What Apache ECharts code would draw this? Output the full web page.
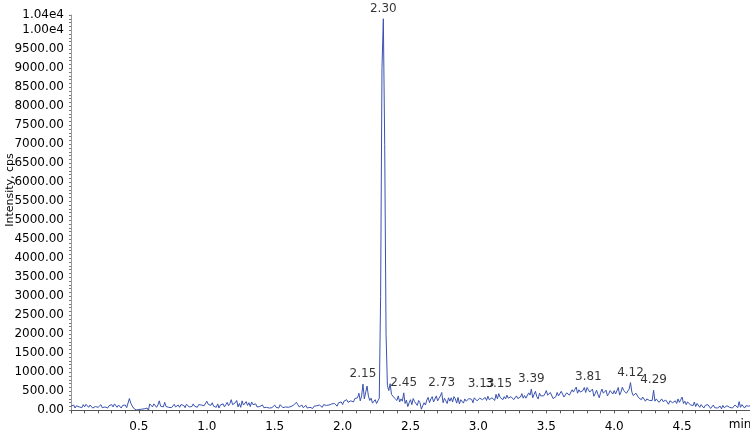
<!DOCTYPE html>
<html>
<head>
<meta charset="utf-8">
<script src="https://cdn.jsdelivr.net/npm/echarts@6/dist/echarts.min.js"></script>
<style>
  html, body { margin: 0; padding: 0; background: #fff; }
  .main { width: 750px; height: 433px; }
</style>
</head>
<body>
<div class="main"></div>
<script>
// [time (min), intensity (cps)], one row per 0.1 min
var trace = [
  [0.00,110],[0.01,80],[0.02,140],[0.03,60],[0.04,120],[0.05,150],[0.06,90],[0.07,130],[0.08,70],[0.09,150],
  [0.10,90],[0.11,160],[0.12,110],[0.13,80],[0.14,140],[0.15,120],[0.16,60],[0.17,30],[0.18,100],[0.19,130],
  [0.20,80],[0.21,120],[0.22,150],[0.23,70],[0.24,110],[0.25,90],[0.26,140],[0.27,60],[0.28,120],[0.29,100],
  [0.30,150],[0.31,90],[0.32,170],[0.33,120],[0.34,80],[0.35,140],[0.36,110],[0.37,60],[0.38,130],[0.39,90],
  [0.40,140],[0.41,70],[0.42,120],[0.43,310],[0.44,190],[0.45,120],[0.46,60],[0.47,30],[0.48,10],[0.49,40],
  [0.50,20],[0.51,0],[0.52,30],[0.53,10],[0.54,40],[0.55,10],[0.56,60],[0.57,0],[0.58,170],[0.59,120],
  [0.60,90],[0.61,170],[0.62,130],[0.63,80],[0.64,140],[0.65,250],[0.66,110],[0.67,160],[0.68,90],[0.69,210],
  [0.70,100],[0.71,150],[0.72,80],[0.73,130],[0.74,70],[0.75,120],[0.76,160],[0.77,90],[0.78,110],[0.79,140],
  [0.80,80],[0.81,150],[0.82,100],[0.83,130],[0.84,70],[0.85,160],[0.86,110],[0.87,90],[0.88,140],[0.89,100],
  [0.90,170],[0.91,110],[0.92,130],[0.93,80],[0.94,150],[0.95,100],[0.96,140],[0.97,90],[0.98,120],[0.99,110],
  [1.00,240],[1.01,160],[1.02,190],[1.03,130],[1.04,200],[1.05,110],[1.06,150],[1.07,80],[1.08,170],[1.09,60],
  [1.10,140],[1.11,100],[1.12,170],[1.13,90],[1.14,150],[1.15,210],[1.16,120],[1.17,180],[1.18,280],[1.19,150],
  [1.20,110],[1.21,200],[1.22,260],[1.23,90],[1.24,180],[1.25,80],[1.26,250],[1.27,140],[1.28,120],[1.29,230],
  [1.30,130],[1.31,200],[1.32,100],[1.33,220],[1.34,150],[1.35,110],[1.36,170],[1.37,90],[1.38,140],[1.39,100],
  [1.40,90],[1.41,140],[1.42,70],[1.43,120],[1.44,80],[1.45,130],[1.46,60],[1.47,110],[1.48,70],[1.49,100],
  [1.50,140],[1.51,80],[1.52,120],[1.53,60],[1.54,150],[1.55,100],[1.56,70],[1.57,120],[1.58,90],[1.59,140],
  [1.60,80],[1.61,130],[1.62,100],[1.63,70],[1.64,140],[1.65,110],[1.66,210],[1.67,150],[1.68,90],[1.69,120],
  [1.70,140],[1.71,70],[1.72,110],[1.73,130],[1.74,60],[1.75,100],[1.76,80],[1.77,120],[1.78,50],[1.79,110],
  [1.80,90],[1.81,120],[1.82,70],[1.83,140],[1.84,100],[1.85,80],[1.86,150],[1.87,110],[1.88,130],[1.89,90],
  [1.90,140],[1.91,100],[1.92,170],[1.93,120],[1.94,180],[1.95,130],[1.96,110],[1.97,200],[1.98,150],[1.99,220],
  [2.00,150],[2.01,240],[2.02,190],[2.03,280],[2.04,210],[2.05,160],[2.06,250],[2.07,300],[2.08,220],[2.09,310],
  [2.10,270],[2.11,330],[2.12,450],[2.13,250],[2.14,380],[2.15,690],[2.16,300],[2.17,250],[2.18,640],[2.19,380],
  [2.20,260],[2.21,320],[2.22,190],[2.23,240],[2.24,280],[2.25,180],[2.26,250],[2.27,320],[2.28,3000],[2.29,9000],
  [2.30,10300],[2.31,7000],[2.32,2000],[2.33,650],[2.34,520],[2.35,700],[2.36,420],[2.37,460],[2.38,330],[2.39,380],
  [2.40,260],[2.41,380],[2.42,220],[2.43,300],[2.44,240],[2.45,460],[2.46,180],[2.47,270],[2.48,100],[2.49,200],
  [2.50,280],[2.51,150],[2.52,310],[2.53,230],[2.54,200],[2.55,130],[2.56,260],[2.57,200],[2.58,30],[2.59,120],
  [2.60,200],[2.61,140],[2.62,270],[2.63,340],[2.64,200],[2.65,300],[2.66,360],[2.67,220],[2.68,250],[2.69,380],
  [2.70,250],[2.71,320],[2.72,380],[2.73,470],[2.74,200],[2.75,320],[2.76,250],[2.77,180],[2.78,330],[2.79,240],
  [2.80,330],[2.81,220],[2.82,360],[2.83,300],[2.84,190],[2.85,340],[2.86,170],[2.87,280],[2.88,260],[2.89,190],
  [2.90,300],[2.91,240],[2.92,220],[2.93,310],[2.94,270],[2.95,290],[2.96,200],[2.97,330],[2.98,280],[2.99,250],
  [3.00,250],[3.01,320],[3.02,370],[3.03,280],[3.04,300],[3.05,340],[3.06,260],[3.07,370],[3.08,280],[3.09,330],
  [3.10,330],[3.11,290],[3.12,260],[3.13,420],[3.14,300],[3.15,440],[3.16,340],[3.17,380],[3.18,280],[3.19,360],
  [3.20,300],[3.21,400],[3.22,320],[3.23,300],[3.24,360],[3.25,410],[3.26,280],[3.27,330],[3.28,380],[3.29,310],
  [3.30,270],[3.31,350],[3.32,440],[3.33,320],[3.34,390],[3.35,320],[3.36,280],[3.37,460],[3.38,400],[3.39,560],
  [3.40,330],[3.41,420],[3.42,500],[3.43,360],[3.44,300],[3.45,450],[3.46,380],[3.47,330],[3.48,380],[3.49,440],
  [3.50,520],[3.51,400],[3.52,350],[3.53,470],[3.54,440],[3.55,310],[3.56,270],[3.57,360],[3.58,470],[3.59,380],
  [3.60,410],[3.61,500],[3.62,480],[3.63,350],[3.64,380],[3.65,460],[3.66,510],[3.67,400],[3.68,420],[3.69,540],
  [3.70,480],[3.71,550],[3.72,610],[3.73,450],[3.74,540],[3.75,480],[3.76,430],[3.77,520],[3.78,600],[3.79,470],
  [3.80,600],[3.81,630],[3.82,480],[3.83,520],[3.84,560],[3.85,370],[3.86,440],[3.87,530],[3.88,420],[3.89,330],
  [3.90,470],[3.91,560],[3.92,450],[3.93,420],[3.94,530],[3.95,380],[3.96,440],[3.97,520],[3.98,560],[3.99,430],
  [4.00,520],[4.01,430],[4.02,470],[4.03,600],[4.04,400],[4.05,480],[4.06,610],[4.07,520],[4.08,500],[4.09,450],
  [4.10,500],[4.11,560],[4.12,730],[4.13,480],[4.14,390],[4.15,380],[4.16,450],[4.17,420],[4.18,330],[4.19,280],
  [4.20,280],[4.21,350],[4.22,330],[4.23,240],[4.24,300],[4.25,320],[4.26,260],[4.27,230],[4.28,260],[4.29,530],
  [4.30,240],[4.31,300],[4.32,330],[4.33,210],[4.34,260],[4.35,300],[4.36,230],[4.37,180],[4.38,270],[4.39,220],
  [4.40,160],[4.41,250],[4.42,290],[4.43,200],[4.44,230],[4.45,250],[4.46,180],[4.47,300],[4.48,210],[4.49,240],
  [4.50,350],[4.51,180],[4.52,240],[4.53,150],[4.54,220],[4.55,260],[4.56,150],[4.57,200],[4.58,120],[4.59,220],
  [4.60,100],[4.61,180],[4.62,130],[4.63,80],[4.64,150],[4.65,110],[4.66,60],[4.67,130],[4.68,90],[4.69,150],
  [4.70,130],[4.71,50],[4.72,100],[4.73,140],[4.74,70],[4.75,110],[4.76,60],[4.77,90],[4.78,110],[4.79,40],
  [4.80,130],[4.81,70],[4.82,60],[4.83,120],[4.84,150],[4.85,80],[4.86,110],[4.87,60],[4.88,90],[4.89,140],
  [4.90,110],[4.91,70],[4.92,230],[4.93,80],[4.94,150],[4.95,100],[4.96,60],[4.97,120],[4.98,80],[4.99,110],
  [5.00,120]
];

// retention times that carry a label
var peakTimes = [2.15, 2.30, 2.45, 2.73, 3.13, 3.15, 3.39, 3.81, 4.12, 4.29];

var yTickLabels = [0, 500, 1000, 1500, 2000, 2500, 3000, 3500, 4000, 4500, 5000,
  5500, 6000, 6500, 7000, 7500, 8000, 8500, 9000, 9500, 10000, 10400];
var xTickLabels = [0.5, 1.0, 1.5, 2.0, 2.5, 3.0, 3.5, 4.0, 4.5];

var yMinor = [];
for (var v = 0; v <= 10400; v += 100) yMinor.push(v);
var xMinor = [];
for (var i = 0; i <= 50; i++) xMinor.push(i / 10);

var peaks = trace.filter(function (p) { return peakTimes.indexOf(p[0]) >= 0; }).map(function (p) {
  var item = { value: p };
  if (p[0] === 3.13) item.label = { offset: [-15, 0] };
  return item;
});

var font = 'DejaVu Sans';
var myChart = echarts.init(document.querySelector('.main'));

option = {
  animation: false,
  grid: { left: 71, right: 0, top: 15, bottom: 20, containLabel: false, outerBoundsMode: 'none' },
  xAxis: {
    type: 'value',
    min: 0,
    max: 5,
    name: 'min',
    nameLocation: 'end',
    nameGap: -10,
    nameMoveOverlap: false,
    nameTextStyle: {
      fontFamily: font, fontSize: 12, color: '#000',
      align: 'center', verticalAlign: 'top', padding: [9, 0, 0, 0]
    },
    splitLine: { show: false },
    axisLine: { lineStyle: { color: '#555' } },
    axisTick: { customValues: xMinor, length: 3, lineStyle: { color: '#555' } },
    axisLabel: {
      customValues: xTickLabels,
      margin: 8,
      fontFamily: font, fontSize: 12, color: '#000',
      formatter: function (v) { return v.toFixed(1); }
    }
  },
  yAxis: {
    type: 'value',
    min: -70,
    max: 10400,
    name: 'Intensity, cps',
    nameLocation: 'middle',
    nameGap: 55,
    nameMoveOverlap: false,
    nameTextStyle: { fontFamily: font, fontSize: 11, color: '#000', padding: [0, 0, 0, 48] },
    splitLine: { show: false },
    axisLine: { show: true, lineStyle: { color: '#999' } },
    axisTick: { customValues: yMinor, length: 2, lineStyle: { color: '#777' } },
    axisLabel: {
      customValues: yTickLabels,
      margin: 7,
      fontFamily: font, fontSize: 12, color: '#000',
      formatter: function (v) {
        return v >= 10000 ? (v / 10000).toFixed(2) + 'e4' : v.toFixed(2);
      }
    }
  },
  series: [{
    name: 'XIC',
    type: 'line',
    data: trace,
    showSymbol: false,
    sampling: 'none',
    lineStyle: { width: 1, color: '#3a52b0' },
    z: 2
  }, {
    name: 'peaks',
    type: 'scatter',
    data: peaks,
    symbolSize: 0,
    silent: true,
    label: {
      show: true,
      position: 'top',
      distance: 4,
      fontFamily: font, fontSize: 12, color: '#000',
      formatter: function (p) { return p.value[0].toFixed(2); }
    },
    z: 3
  }]
};

myChart.setOption(option);
</script>
</body>
</html>
